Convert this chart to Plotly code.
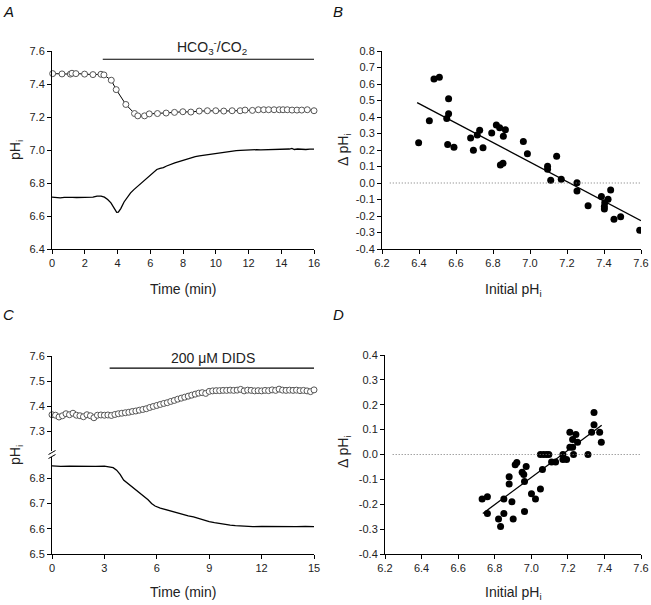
import plotly.graph_objects as go

# ---------------- DATA ----------------
# Panel A: pHi time course, HCO3-/CO2 addition
a_circ_t = [0.04, 0.61, 1.12, 1.22, 1.46, 1.99, 2.50, 2.99, 3.17, 3.62, 3.92, 4.51, 5.04, 5.24,
            5.65, 5.94, 6.44, 6.97, 7.48, 7.99, 8.48, 8.99, 9.49, 10.0, 10.49, 11.0, 11.49, 11.79,
            12.24, 12.6, 12.93, 13.23, 13.56, 13.88, 14.11, 14.37, 14.66, 14.96, 15.25, 15.59, 16.0]
a_circ_v = [7.463, 7.461, 7.460, 7.465, 7.463, 7.460, 7.457, 7.459, 7.455, 7.423, 7.366, 7.276, 7.221, 7.207,
            7.207, 7.219, 7.221, 7.224, 7.228, 7.232, 7.230, 7.236, 7.238, 7.238, 7.236, 7.238, 7.238, 7.242,
            7.240, 7.244, 7.244, 7.244, 7.244, 7.244, 7.244, 7.244, 7.242, 7.242, 7.242, 7.244, 7.238]

a_line_t = [0, 0.25, 0.5, 0.75, 1.0, 1.25, 1.5, 1.75, 2.0, 2.25, 2.5, 2.75, 3.0, 3.2, 3.4, 3.6, 3.8,
            3.95, 4.05, 4.2, 4.4, 4.6, 4.8, 5.0, 5.2, 5.4, 5.6, 5.8, 6.0, 6.2, 6.4, 6.6, 6.8, 7.0,
            7.25, 7.5, 7.75, 8.0, 8.25, 8.5, 8.75, 9.0, 9.25, 9.5, 9.75, 10.0, 10.25, 10.5, 10.75,
            11.0, 11.25, 11.5, 11.75, 12.0, 12.25, 12.5, 12.75, 13.0, 13.25, 13.5, 13.75, 14.0,
            14.25, 14.5, 14.65, 14.8, 15.0, 15.25, 15.5, 15.75, 16.0]
a_line_v = [6.714, 6.712, 6.710, 6.713, 6.711, 6.713, 6.712, 6.712, 6.713, 6.712, 6.714, 6.720, 6.721,
            6.714, 6.700, 6.680, 6.645, 6.622, 6.623, 6.645, 6.685, 6.715, 6.740, 6.760, 6.778, 6.795,
            6.812, 6.830, 6.850, 6.868, 6.882, 6.889, 6.893, 6.903, 6.915, 6.922, 6.930, 6.938, 6.946,
            6.952, 6.960, 6.964, 6.968, 6.972, 6.973, 6.978, 6.983, 6.987, 6.990, 6.992, 6.996, 6.998,
            7.000, 7.002, 7.001, 7.002, 7.001, 7.002, 7.001, 7.002, 7.003, 7.002, 7.004, 7.006, 7.010,
            7.003, 7.006, 7.004, 7.003, 7.005, 7.005]

a_bar = [3.1, 16.0]
a_bar_y = 7.55
a_bar_label = "HCO<sub>3</sub><sup>-</sup>/CO<sub>2</sub>"

# Panel B: delta pHi vs initial pHi (HCO3-/CO2)
b_x = [6.398, 6.456, 6.481, 6.510, 6.560, 6.560, 6.550, 6.555, 6.589, 6.679, 6.694, 6.715, 6.728,
       6.746, 6.793, 6.818, 6.836, 6.867, 6.856, 6.840, 6.854, 6.964, 6.986, 7.095, 7.095, 7.112,
       7.144, 7.169, 7.254, 7.254, 7.314, 7.386, 7.404, 7.402, 7.402, 7.422, 7.436, 7.454, 7.490, 7.593]
b_y = [0.244, 0.377, 0.631, 0.641, 0.510, 0.419, 0.391, 0.234, 0.216, 0.273, 0.198, 0.291, 0.319,
       0.214, 0.303, 0.351, 0.335, 0.323, 0.283, 0.109, 0.120, 0.252, 0.178, 0.101, 0.083, 0.017,
       0.162, 0.023, 0.001, -0.048, -0.138, -0.082, -0.120, -0.158, -0.142, -0.098, -0.042, -0.219,
       -0.205, -0.287]
b_fit_x = [6.39, 7.60]
b_fit_y = [0.487, -0.228]

# Panel C: pHi time course, 200 uM DIDS
c_circ_t = [0.0, 0.2, 0.4, 0.6, 0.8, 1.0, 1.2, 1.4, 1.6, 1.8, 2.0, 2.2, 2.4, 2.6, 2.8, 3.0, 3.2, 3.4,
            3.6, 3.8, 4.0, 4.2, 4.4, 4.6, 4.8, 5.0, 5.2, 5.4, 5.6, 5.8, 6.0, 6.2, 6.4, 6.6, 6.8, 7.0,
            7.2, 7.4, 7.6, 7.8, 8.0, 8.2, 8.4, 8.6, 8.8, 9.0, 9.2, 9.4, 9.6, 9.8, 10.0, 10.2, 10.4,
            10.6, 10.8, 11.0, 11.2, 11.4, 11.6, 11.8, 12.0, 12.2, 12.4, 12.6, 12.8, 13.0, 13.2, 13.4,
            13.6, 13.8, 14.0, 14.2, 14.4, 14.6, 14.8, 15.0]
c_circ_v = [7.366, 7.364, 7.357, 7.362, 7.370, 7.366, 7.372, 7.364, 7.362, 7.358, 7.366, 7.362, 7.354,
            7.364, 7.365, 7.364, 7.365, 7.363, 7.367, 7.370, 7.372, 7.374, 7.376, 7.379, 7.381, 7.384,
            7.387, 7.390, 7.395, 7.399, 7.403, 7.407, 7.411, 7.414, 7.419, 7.423, 7.428, 7.432, 7.436,
            7.440, 7.444, 7.448, 7.452, 7.454, 7.451, 7.459, 7.461, 7.462, 7.462, 7.463, 7.463, 7.464,
            7.463, 7.464, 7.467, 7.461, 7.464, 7.463, 7.461, 7.462, 7.461, 7.463, 7.462, 7.465, 7.463,
            7.468, 7.464, 7.463, 7.464, 7.463, 7.464, 7.462, 7.463, 7.461, 7.458, 7.465]

c_line_t = [0, 0.5, 1.0, 1.5, 2.0, 2.5, 3.0, 3.3, 3.5, 3.7, 3.9, 4.1, 4.3, 4.5, 4.8, 5.1, 5.3, 5.5,
            5.7, 5.9, 6.2, 6.6, 6.9, 7.2, 7.5, 7.8, 8.1, 8.4, 8.7, 9.0, 9.3, 9.6, 9.9, 10.2, 10.5,
            10.8, 11.1, 11.5, 12.0, 12.5, 13.0, 13.5, 14.0, 14.5, 15.0]
c_line_v = [6.849, 6.847, 6.848, 6.847, 6.848, 6.847, 6.848, 6.846, 6.842, 6.832, 6.815, 6.793, 6.782,
            6.770, 6.756, 6.738, 6.728, 6.715, 6.700, 6.690, 6.682, 6.674, 6.667, 6.662, 6.656, 6.651,
            6.647, 6.640, 6.632, 6.628, 6.624, 6.620, 6.617, 6.614, 6.612, 6.610, 6.609, 6.608, 6.609,
            6.608, 6.609, 6.609, 6.608, 6.609, 6.608]

c_bar = [3.3, 15.0]
c_bar_y = 7.552
c_bar_label = "200 \u03bcM DIDS"

# Panel D: delta pHi vs initial pHi (DIDS)
d_x = [6.731, 6.760, 6.760, 6.821, 6.832, 6.850, 6.850, 6.879, 6.879, 6.894, 6.901, 6.912, 6.921,
       6.950, 6.959, 6.963, 6.972, 6.963, 7.001, 7.023, 7.050, 7.050, 7.067, 7.083, 7.096, 7.061,
       7.111, 7.133, 7.173, 7.173, 7.193, 7.211, 7.226, 7.211, 7.226, 7.231, 7.244, 7.253, 7.310,
       7.330, 7.343, 7.343, 7.374, 7.383]
d_y = [-0.179, -0.170, -0.237, -0.259, -0.289, -0.179, -0.237, -0.089, -0.119, -0.190, -0.259, -0.041,
       -0.032, -0.071, -0.080, -0.109, -0.048, -0.229, -0.158, -0.179, -0.139, 0.0, 0.0, 0.0, 0.0,
       -0.060, -0.030, -0.030, 0.0, -0.020, -0.020, 0.029, 0.029, 0.089, 0.060, 0.0, 0.080, 0.049,
       0.0, 0.089, 0.169, 0.120, 0.089, 0.049]
d_fit_x = [6.735, 7.385]
d_fit_y = [-0.237, 0.118]

# tick labels
a_xticks = [0, 2, 4, 6, 8, 10, 12, 14, 16]
a_yticks = [6.4, 6.6, 6.8, 7.0, 7.2, 7.4, 7.6]
ph_xticks = [6.2, 6.4, 6.6, 6.8, 7.0, 7.2, 7.4, 7.6]
b_yticks = [-0.4, -0.3, -0.2, -0.1, 0.0, 0.1, 0.2, 0.3, 0.4, 0.5, 0.6, 0.7, 0.8]
c_xticks = [0, 3, 6, 9, 12, 15]
c_yticks_low = [6.5, 6.6, 6.7, 6.8]
c_yticks_high = [7.3, 7.4, 7.5, 7.6]
d_yticks = [-0.4, -0.3, -0.2, -0.1, 0.0, 0.1, 0.2, 0.3, 0.4]


def lab(vals, fmt="{:.1f}"):
    return [fmt.format(v).replace("-0.0", "0.0") for v in vals]

# ---------------- LAYOUT HELPERS ----------------
W, H = 651, 605
FONT = "Arial, 'Liberation Sans', sans-serif"


def px(x):
    return x / W


def py(y):
    return 1 - y / H


def axis(domain, rng, tickvals, ticktext, anchor):
    return dict(domain=domain, range=rng, tickvals=tickvals, ticktext=ticktext, anchor=anchor,
                showline=True, linecolor="black", linewidth=1, ticks="outside", ticklen=4,
                tickcolor="black", tickwidth=1, showgrid=False, zeroline=False, automargin=False,
                tickfont=dict(family=FONT, size=11, color="#222"), fixedrange=True)


fig = go.Figure()

open_marker = dict(symbol="circle", size=6, color="white", line=dict(color="#555", width=1))
dot_marker = dict(symbol="circle", size=7, color="black", line=dict(width=0))

# A
fig.add_trace(go.Scatter(x=a_line_t, y=a_line_v, mode="lines", line=dict(color="black", width=1.3),
                         xaxis="x", yaxis="y", showlegend=False))
fig.add_trace(go.Scatter(x=a_circ_t, y=a_circ_v, mode="lines+markers", line=dict(color="black", width=1),
                         marker=open_marker, xaxis="x", yaxis="y", showlegend=False, cliponaxis=False))
# B
fig.add_trace(go.Scatter(x=b_x, y=b_y, mode="markers", marker=dot_marker, xaxis="x2", yaxis="y2",
                         showlegend=False))
fig.add_trace(go.Scatter(x=b_fit_x, y=b_fit_y, mode="lines", line=dict(color="black", width=1.3),
                         xaxis="x2", yaxis="y2", showlegend=False))
# C
fig.add_trace(go.Scatter(x=c_line_t, y=c_line_v, mode="lines", line=dict(color="black", width=1.3),
                         xaxis="x3", yaxis="y3", showlegend=False))
fig.add_trace(go.Scatter(x=c_circ_t, y=c_circ_v, mode="markers", marker=open_marker,
                         xaxis="x3", yaxis="y4", showlegend=False, cliponaxis=False))
# D
fig.add_trace(go.Scatter(x=d_x, y=d_y, mode="markers", marker=dot_marker, xaxis="x4", yaxis="y5",
                         showlegend=False))
fig.add_trace(go.Scatter(x=d_fit_x, y=d_fit_y, mode="lines", line=dict(color="black", width=1.3),
                         xaxis="x4", yaxis="y5", showlegend=False))

fig.update_layout(
    width=W, height=H, margin=dict(l=0, r=0, t=0, b=0),
    paper_bgcolor="white", plot_bgcolor="white", showlegend=False,
    font=dict(family=FONT, color="#222"),
    xaxis=axis([px(52), px(314)], [0, 16], a_xticks, [str(v) for v in a_xticks], "y"),
    yaxis=axis([py(249), py(51)], [6.4, 7.6], a_yticks, lab(a_yticks), "x"),
    xaxis2=axis([px(382), px(641)], [6.2, 7.6], ph_xticks, lab(ph_xticks), "y2"),
    yaxis2=axis([py(249), py(51)], [-0.4, 0.8], b_yticks, lab(b_yticks), "x2"),
    xaxis3=axis([px(52), px(314)], [0, 15], c_xticks, [str(v) for v in c_xticks], "y3"),
    yaxis3=axis([py(554), py(457)], [6.5, 6.884], c_yticks_low, lab(c_yticks_low), "x3"),
    yaxis4=axis([py(451), py(356)], [7.2215, 7.6], c_yticks_high, lab(c_yticks_high), "x3"),
    xaxis4=axis([px(385), px(641)], [6.2, 7.6], ph_xticks, lab(ph_xticks), "y5"),
    yaxis5=axis([py(554), py(355)], [-0.4, 0.4], d_yticks, lab(d_yticks), "x4"),
)

# zero reference lines (dotted)
for xr, yr in [("x2", "y2"), ("x4", "y5")]:
    fig.add_shape(type="line", xref=f"{xr} domain", yref=yr, x0=0.03, x1=1.0, y0=0, y1=0,
                  line=dict(color="#777", width=1, dash="1px,2px"))

# treatment bars
fig.add_shape(type="line", xref="x", yref="y", x0=a_bar[0], x1=a_bar[1], y0=a_bar_y, y1=a_bar_y,
              line=dict(color="black", width=1.2))
fig.add_shape(type="line", xref="x3", yref="y4", x0=c_bar[0], x1=c_bar[1], y0=c_bar_y, y1=c_bar_y,
              line=dict(color="black", width=1.2))

# axis break marks on panel C
for yb in [452.5, 456.5]:
    fig.add_shape(type="line", xref="paper", yref="paper", x0=px(48.5), x1=px(55.5),
                  y0=py(yb + 2), y1=py(yb - 2), line=dict(color="black", width=1))

ann = []
title_font = dict(family=FONT, size=14, color="#222")
ann.append(dict(xref="x", yref="y", x=9.77, y=a_bar_y, text=a_bar_label, showarrow=False,
                yanchor="bottom", font=title_font, yshift=0))
ann.append(dict(xref="x3", yref="y4", x=9.2, y=c_bar_y, text=c_bar_label, showarrow=False,
                yanchor="bottom", font=title_font, yshift=0))

# axis titles
for x, y, t in [(183, 289, "Time (min)"), (513, 290, "Initial pH<sub>i</sub>"),
                (183, 592, "Time (min)"), (513, 593, "Initial pH<sub>i</sub>")]:
    ann.append(dict(xref="paper", yref="paper", x=px(x), y=py(y), text=t, showarrow=False,
                    xanchor="center", yanchor="middle", font=title_font))
for x, y, t in [(16, 150, "pH<sub>i</sub>"), (344, 150, "\u0394 pH<sub>i</sub>"),
                (16, 455, "pH<sub>i</sub>"), (344, 452, "\u0394 pH<sub>i</sub>")]:
    ann.append(dict(xref="paper", yref="paper", x=px(x), y=py(y), text=t, showarrow=False,
                    xanchor="center", yanchor="middle", textangle=-90, font=title_font))

# panel letters
for x, y, t in [(8, 11, "A"), (338, 11, "B"), (8, 314, "C"), (338, 314, "D")]:
    ann.append(dict(xref="paper", yref="paper", x=px(x), y=py(y), text=f"<i>{t}</i>", showarrow=False,
                    xanchor="center", yanchor="middle", font=dict(family=FONT, size=15, color="#111")))

fig.update_layout(annotations=ann)

fig.write_html("out.html", config={"displayModeBar": False, "staticPlot": True},
               post_script="document.body.style.margin='0';document.body.style.overflow='hidden';")
